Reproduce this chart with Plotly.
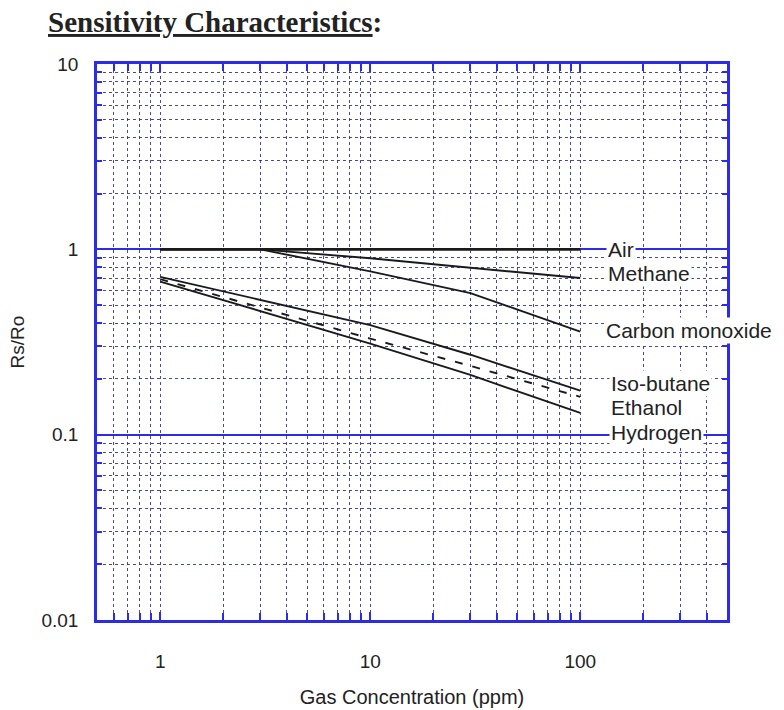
import math
import plotly.graph_objects as go

# ---- data ----
air_x = [1, 100]
air_y = [1.0, 1.0]
methane_x = [1, 3, 10, 100]
methane_y = [1.0, 1.0, 0.895, 0.70]
co_x = [1, 3, 10, 30, 100]
co_y = [1.0, 1.0, 0.76, 0.58, 0.36]
isobutane_x = [1, 10, 30, 100]
isobutane_y = [0.71, 0.39, 0.27, 0.173]
ethanol_x = [1, 10, 30, 100]
ethanol_y = [0.69, 0.33, 0.235, 0.16]
hydrogen_x = [1, 10, 30, 100]
hydrogen_y = [0.67, 0.31, 0.21, 0.131]

x_ticks = [1, 10, 100]
x_ticktext = ["1", "10", "100"]
y_ticks = [0.01, 0.1, 1, 10]
y_ticktext = ["0.01", "0.1", "1", "10"]
x_minor = [0.6, 0.7, 0.8, 0.9] + [k for k in range(2, 10)] + [10 * k for k in range(2, 10)] + [200, 300, 400]
y_minor = [k / 100 for k in range(2, 10)] + [k / 10 for k in range(2, 10)] + [k for k in range(2, 10)]

label_names = ["Air", "Methane", "Carbon monoxide", "Iso-butane", "Ethanol", "Hydrogen"]

FONT = "Liberation Sans, Arial, sans-serif"
BLUE = "#2c2ce8"
GRID = "rgba(40,40,150,0.85)"
LINE = "#1a1a1a"

fig = go.Figure()
series = [
    (air_x, air_y, 2.8, "solid"),
    (methane_x, methane_y, 1.9, "solid"),
    (co_x, co_y, 1.9, "solid"),
    (isobutane_x, isobutane_y, 1.9, "solid"),
    (ethanol_x, ethanol_y, 1.9, "8px,10px"),
    (hydrogen_x, hydrogen_y, 1.9, "solid"),
]
for (xs, ys, w, d), name in zip(series, label_names):
    fig.add_trace(go.Scatter(x=xs, y=ys, mode="lines", name=name,
                             line=dict(color=LINE, width=w, dash=d),
                             showlegend=False, hoverinfo="skip"))

# label positions (left edge px, centre y px) in the 784x710 canvas
L, T, W, H = 97, 64, 630, 556
label_pos = [(606, 249), (606, 273), (604, 330), (609, 383), (609, 408), (609, 432)]
for name, (px, py) in zip(label_names, label_pos):
    fig.add_annotation(text=name, xref="paper", yref="paper",
                       x=(px - L) / W, y=(T + H - py) / H,
                       xanchor="left", yanchor="middle", showarrow=False,
                       font=dict(family=FONT, size=21, color="#222"),
                       bgcolor="white", borderpad=1)

# title
fig.add_annotation(text="<b><u>Sensitivity Characteristics</u>:</b>",
                   xref="paper", yref="paper",
                   x=(46 - L) / W, y=(T + H - 22) / H,
                   xanchor="left", yanchor="middle", showarrow=False,
                   font=dict(family="Liberation Serif, Times New Roman, serif", size=29, color="#222"))

axis_common = dict(
    type="log", showline=True, linecolor=BLUE, linewidth=2.5, mirror="allticks",
    ticks="inside", ticklen=8, tickwidth=2, tickcolor=BLUE,
    tickfont=dict(family=FONT, size=19, color="#222"),
    zeroline=False,
)

fig.update_xaxes(
    **axis_common,
    range=[math.log10(0.5), math.log10(500)],
    tickmode="array", tickvals=x_ticks, ticktext=x_ticktext,
    showgrid=True, gridcolor=GRID, gridwidth=1.2, griddash="dot",
    minor=dict(tickvals=x_minor, ticks="inside", ticklen=7, tickwidth=1.5, tickcolor=BLUE,
               showgrid=True, gridcolor=GRID, gridwidth=1.2, griddash="dot"),
    ticklabelstandoff=22,
    title=dict(text="Gas Concentration (ppm)", font=dict(family=FONT, size=20, color="#222"), standoff=20),
)
fig.update_yaxes(
    **axis_common,
    range=[-2, 1],
    tickmode="array", tickvals=y_ticks, ticktext=y_ticktext,
    showgrid=True, gridcolor=BLUE, gridwidth=2,
    minor=dict(tickvals=y_minor, ticks="inside", ticklen=5, tickwidth=1.5, tickcolor=BLUE,
               showgrid=True, gridcolor=GRID, gridwidth=1.2, griddash="dot"),
    ticklabelstandoff=12,
    title=dict(text="Rs/Ro", font=dict(family=FONT, size=19, color="#222"), standoff=12),
)

fig.update_layout(
    width=784, height=710,
    margin=dict(l=L, r=784 - L - W, t=T, b=710 - T - H, autoexpand=False),
    paper_bgcolor="white", plot_bgcolor="white",
    showlegend=False,
)

fig.write_html("out.html")
